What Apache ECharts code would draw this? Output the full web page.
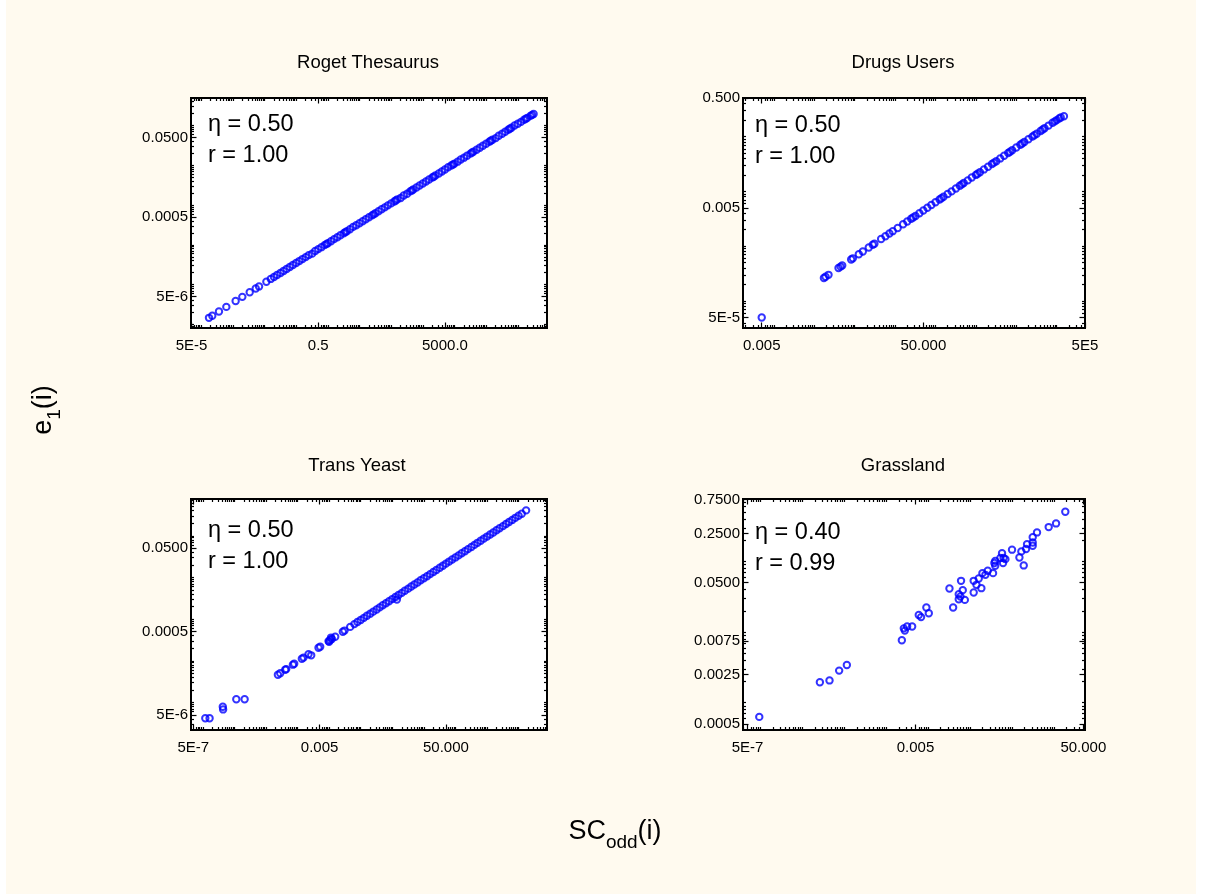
<!DOCTYPE html>
<html>
<head>
<meta charset="utf-8">
<script src="https://cdn.jsdelivr.net/npm/echarts@6.0.0/dist/echarts.min.js"></script>
<style>
html,body{margin:0;padding:0;background:#fff;}
#bg{position:absolute;left:6px;top:0;width:1190px;height:894px;background:#FFFAEF;}
#chart{position:absolute;left:0;top:0;width:1207px;height:894px;}
</style>
</head>
<body>
<div id="bg"></div>
<div id="chart"></div>
<script>
// ---------------- data ----------------
const rogetX = [1.77e-4, 2.25e-4, 3.66e-4, 6.25e-4, 1.23e-3, 2.0e-3, 3.42e-3, 5.3e-3, 6.75e-3, 1.15e-2,
  1.58e-2, 2.0e-2, 2.5e-2, 3.2e-2, 4.0e-2, 5.0e-2, 6.3e-2, 7.9e-2,
  0.1, 0.126, 0.158, 0.2, 0.25, 0.32, 0.4, 0.5, 0.63, 0.79,
  1, 1.26, 1.58, 2, 2.5, 3.2, 4, 5, 6.3, 7.9,
  10, 12.6, 15.8, 20, 25, 32, 40, 50, 63, 79,
  100, 126, 158, 200, 250, 320, 400, 500, 630, 790,
  1000, 1260, 1580, 2000, 2500, 3200, 4000, 5000, 6300, 7900,
  1e4, 1.26e4, 1.58e4, 2e4, 2.5e4, 3.2e4, 4e4, 5e4, 6.3e4, 7.9e4,
  1e5, 1.26e5, 1.58e5, 2e5, 2.5e5, 3.2e5, 4e5, 5e5, 6.3e5, 7.9e5,
  1e6, 1.26e6, 1.58e6, 2e6, 2.5e6, 3.15e6,
  0.9, 3.6, 28, 140, 450, 2200, 9000, 3.6e4, 1.4e5, 5.6e5, 1.8e6, 2.8e6];
const rogetY = [1.46e-6, 1.65e-6, 2.1e-6, 2.75e-6, 3.86e-6, 4.92e-6, 6.43e-6, 8.0e-6, 9.0e-6, 1.18e-5,
  1.39e-5, 1.55e-5, 1.74e-5, 1.96e-5, 2.2e-5, 2.46e-5, 2.76e-5, 3.1e-5,
  3.48e-5, 3.9e-5, 4.38e-5, 4.91e-5, 5.5e-5, 6.0e-5, 6.96e-5, 7.8e-5, 8.73e-5, 9.81e-5,
  1.1e-4, 1.23e-4, 1.39e-4, 1.55e-4, 1.74e-4, 1.96e-4, 2.2e-4, 2.46e-4, 2.82e-4, 3.1e-4,
  3.48e-4, 3.9e-4, 4.38e-4, 4.91e-4, 5.5e-4, 6.19e-4, 6.96e-4, 7.8e-4, 8.73e-4, 9.81e-4,
  1.1e-3, 1.23e-3, 1.39e-3, 1.5e-3, 1.74e-3, 1.92e-3, 2.2e-3, 2.46e-3, 2.76e-3, 3.1e-3,
  3.48e-3, 3.9e-3, 4.38e-3, 4.91e-3, 5.5e-3, 6.19e-3, 6.96e-3, 7.8e-3, 8.9e-3, 9.81e-3,
  1.1e-2, 1.23e-2, 1.39e-2, 1.55e-2, 1.74e-2, 1.96e-2, 2.2e-2, 2.46e-2, 2.76e-2, 3.1e-2,
  3.48e-2, 3.9e-2, 4.38e-2, 4.8e-2, 5.5e-2, 6.19e-2, 6.96e-2, 7.8e-2, 8.73e-2, 1.0e-1,
  0.11, 0.123, 0.139, 0.155, 0.174, 0.195,
  1.04e-4, 2.09e-4, 5.82e-4, 1.3e-3, 2.33e-3, 5.16e-3, 1.04e-2, 2.09e-2, 4.12e-2, 8.23e-2, 0.148, 0.184];

const drugsX = [0.005, 0.173, 0.19, 0.225, 0.398, 0.447, 0.491, 0.818, 0.9, 1.265, 1.59, 2.23, 2.8, 3.08,
  4.51, 5.77, 7.23, 8.75, 11.6,
  15.8, 20, 25, 32, 40, 50, 63, 79,
  100, 126, 158, 200, 250, 320, 400, 500, 630, 790,
  1000, 1260, 1580, 2000, 2500, 3200, 4000, 5000, 6300, 7900,
  1e4, 1.26e4, 1.58e4, 2e4, 2.5e4, 3.2e4, 4e4, 5e4, 6.3e4, 7.9e4,
  1e5, 1.26e5, 1.51e5,
  28, 140, 450, 1100, 2800, 7000, 1.4e4, 2.8e4, 4.5e4, 9e4, 1.15e5];
const drugsY = [5.0e-5, 2.63e-4, 2.76e-4, 3.0e-4, 4.0e-4, 4.23e-4, 4.43e-4, 5.72e-4, 6.0e-4, 7.13e-4, 7.99e-4, 9.47e-4, 1.06e-3, 1.11e-3,
  1.35e-3, 1.52e-3, 1.70e-3, 1.88e-3, 2.15e-3,
  2.52e-3, 2.82e-3, 3.16e-3, 3.56e-3, 4.0e-3, 4.48e-3, 5.02e-3, 5.64e-3,
  6.34e-3, 7.1e-3, 7.99e-3, 8.94e-3, 1.0e-2, 1.13e-2, 1.27e-2, 1.42e-2, 1.59e-2, 1.79e-2,
  2.0e-2, 2.24e-2, 2.52e-2, 2.82e-2, 3.16e-2, 3.56e-2, 4.0e-2, 4.48e-2, 5.02e-2, 5.64e-2,
  6.34e-2, 7.1e-2, 7.99e-2, 8.94e-2, 0.1, 0.113, 0.127, 0.142, 0.159, 0.179,
  0.2, 0.224, 0.236,
  3.35e-3, 7.5e-3, 1.345e-2, 2.1e-2, 3.35e-2, 5.3e-2, 7.5e-2, 0.106, 0.1345, 0.19, 0.215];

const yeastX = [1.2e-6, 1.64e-6, 4.3e-6, 4.4e-6, 1.15e-5, 2.11e-5,
  2.39e-4, 2.83e-4, 4.07e-4, 4.39e-4, 7.13e-4, 7.85e-4, 1.37e-3, 1.55e-3, 2.23e-3, 2.71e-3,
  4.62e-3, 5.22e-3, 9.6e-3, 1.0e-2, 1.08e-2, 1.15e-2, 1.22e-2, 1.56e-2, 2.72e-2, 3.08e-2, 4.65e-2,
  6.3e-2, 7.9e-2,
  0.1, 0.126, 0.158, 0.2, 0.25, 0.32, 0.4, 0.5, 0.63, 0.79,
  1, 1.26, 1.58, 2, 2.5, 3.2, 4, 5, 6.3, 7.9,
  10, 12.6, 15.8, 20, 25, 32, 40, 50, 63, 79,
  100, 126, 158, 200, 250, 320, 400, 500, 630, 790,
  1000, 1260, 1580, 2000, 2500, 3200, 4000, 5000, 6300, 7900,
  1e4, 1.26e4, 1.73e4, 1.4];
const yeastY = [4.16e-6, 4.16e-6, 7.9e-6, 6.8e-6, 1.19e-5, 1.19e-5,
  4.6e-5, 5.0e-5, 6.1e-5, 6.3e-5, 8.06e-5, 8.46e-5, 1.12e-4, 1.19e-4, 1.43e-4, 1.35e-4,
  2.05e-4, 2.18e-4, 2.96e-4, 2.85e-4, 3.14e-4, 3.6e-4, 3.34e-4, 3.77e-4, 4.98e-4, 5.3e-4, 6.5e-4,
  7.58e-4, 8.52e-4,
  9.55e-4, 1.07e-3, 1.2e-3, 1.35e-3, 1.51e-3, 1.7e-3, 1.91e-3, 2.14e-3, 2.4e-3, 2.69e-3,
  3.02e-3, 3.38e-3, 3.8e-3, 4.26e-3, 4.77e-3, 5.38e-3, 6.04e-3, 6.76e-3, 7.58e-3, 8.52e-3,
  9.55e-3, 1.07e-2, 1.2e-2, 1.35e-2, 1.51e-2, 1.7e-2, 1.91e-2, 2.14e-2, 2.4e-2, 2.69e-2,
  3.02e-2, 3.38e-2, 3.8e-2, 4.26e-2, 4.77e-2, 5.38e-2, 6.04e-2, 6.76e-2, 7.58e-2, 8.52e-2,
  9.55e-2, 0.107, 0.12, 0.135, 0.151, 0.17, 0.191, 0.214, 0.24, 0.269,
  0.302, 0.338, 0.406, 2.95e-3];

const grassX = [9.5e-7, 2.64e-5, 4.48e-5, 7.6e-5, 1.16e-4, 2.37e-3, 2.64e-3, 2.79e-3, 3.17e-3, 4.17e-3,
  6.0e-3, 6.8e-3, 9.1e-3, 1.04e-2, 3.23e-2, 3.95e-2, 5.38e-2, 5.38e-2, 5.9e-2, 6.1e-2,
  6.7e-2, 7.5e-2, 0.122, 0.122, 0.142, 0.161, 0.186, 0.197, 0.232, 0.264,
  0.353, 0.38, 0.398, 0.398, 0.528, 0.578, 0.611, 0.63, 0.695, 1.0,
  1.5, 1.67, 1.9, 2.16, 2.28, 3.11, 3.11, 3.11, 3.94, 7.48, 11.2, 18.6];
const grassY = [6.3e-4, 1.95e-3, 2.07e-3, 2.85e-3, 3.43e-3, 7.66e-3, 1.13e-2, 1.05e-2, 1.2e-2, 1.2e-2,
  1.75e-2, 1.63e-2, 2.23e-2, 1.85e-2, 4.14e-2, 2.23e-2, 3.44e-2, 2.92e-2, 3.19e-2, 5.32e-2,
  3.93e-2, 2.86e-2, 5.32e-2, 3.64e-2, 4.67e-2, 5.74e-2, 4.19e-2, 6.84e-2, 6.47e-2, 7.38e-2,
  6.84e-2, 9.5e-2, 0.102, 8.7e-2, 0.112, 0.131, 9.5e-2, 0.112, 0.108, 0.147,
  0.114, 0.139, 8.8e-2, 0.15, 0.176, 0.167, 0.186, 0.221, 0.258, 0.307, 0.346, 0.507];

// tick values and labels
const rogetXTicks = [5e-5, 0.5, 5000];
const rogetXLabels = ['5E-5', '0.5', '5000.0'];
const rogetYTicks = [5e-6, 5e-4, 0.05];
const rogetYLabels = ['5E-6', '0.0005', '0.0500'];
const drugsXTicks = [0.005, 50, 5e5];
const drugsXLabels = ['0.005', '50.000', '5E5'];
const drugsYTicks = [5e-5, 0.005, 0.5];
const drugsYLabels = ['5E-5', '0.005', '0.500'];
const yeastXTicks = [5e-7, 0.005, 50];
const yeastXLabels = ['5E-7', '0.005', '50.000'];
const yeastYTicks = [5e-6, 5e-4, 0.05];
const yeastYLabels = ['5E-6', '0.0005', '0.0500'];
const grassXTicks = [5e-7, 0.005, 50];
const grassXLabels = ['5E-7', '0.005', '50.000'];
const grassYTicks = [0.0005, 0.0025, 0.0075, 0.05, 0.25, 0.75];
const grassYLabels = ['0.0005', '0.0025', '0.0075', '0.0500', '0.2500', '0.7500'];

const titles = ['Roget Thesaurus', 'Drugs Users', 'Trans Yeast', 'Grassland'];
const etaTexts = ['\u03b7 = 0.50', '\u03b7 = 0.50', '\u03b7 = 0.50', '\u03b7 = 0.40'];
const rTexts = ['r = 1.00', 'r = 1.00', 'r = 1.00', 'r = 0.99'];

// ---------------- layout ----------------
const FONT = '"Liberation Sans", Arial, Helvetica, sans-serif';
const panels = [
  {xs: rogetX, ys: rogetY, xr: [4.79e-5, 8.34e6], yr: [8.11e-7, 0.49],
   xt: rogetXTicks, xl: rogetXLabels, yt: rogetYTicks, yl: rogetYLabels,
   grid: {left: 191, top: 98, width: 356, height: 230}, tx: 368, ty: 63, ax: 208, ay: 125},
  {xs: drugsX, ys: drugsY, xr: [1.72e-3, 5.02e5], yr: [3.21e-5, 0.507],
   xt: drugsXTicks, xl: drugsXLabels, yt: drugsYTicks, yl: drugsYLabels,
   grid: {left: 743, top: 98, width: 342, height: 230}, tx: 903, ty: 63, ax: 755, ay: 126},
  {xs: yeastX, ys: yeastY, xr: [4.23e-7, 7.94e4], yr: [2.18e-6, 0.762],
   xt: yeastXTicks, xl: yeastXLabels, yt: yeastYTicks, yl: yeastYLabels,
   grid: {left: 191, top: 499, width: 356, height: 231}, tx: 357, ty: 466, ax: 208, ay: 531},
  {xs: grassX, ys: grassY, xr: [3.89e-7, 54.8], yr: [4.11e-4, 0.767],
   xt: grassXTicks, xl: grassXLabels, yt: grassYTicks, yl: grassYLabels,
   grid: {left: 743, top: 499, width: 342, height: 231}, tx: 903, ty: 466, ax: 755, ay: 533}
];

function minorTicks(min, max, major) {
  const out = [];
  for (let n = Math.floor(Math.log10(min)) - 1; n <= Math.ceil(Math.log10(max)); n++) {
    for (let m = 1; m <= 9; m++) {
      const v = parseFloat((m * Math.pow(10, n)).toPrecision(6));
      if (v < min || v > max) continue;
      if (major.some(t => Math.abs(t - v) / t < 1e-6)) continue;
      out.push(v);
    }
  }
  return out;
}
function labelFor(v, ticks, labels) {
  let best = 0, bd = Infinity;
  ticks.forEach((t, i) => { const d = Math.abs(Math.log10(v) - Math.log10(t)); if (d < bd) { bd = d; best = i; } });
  return labels[best];
}
function mkAxis(gi, range, ticks, labels, pos, withLabels, minor, isY) {
  return {
    type: 'log', logBase: 10, gridIndex: gi, position: pos,
    min: range[0], max: range[1],
    axisLine: {show: false, onZero: false},
    splitLine: {show: false}, minorTick: {show: false}, minorSplitLine: {show: false},
    axisTick: {show: true, inside: true, length: minor ? 3 : 5.5,
      lineStyle: {color: '#000', width: 1.2},
      customValues: minor ? minorTicks(range[0], range[1], ticks) : ticks},
    axisLabel: withLabels ? {show: true, customValues: ticks,
      formatter: v => labelFor(v, ticks, labels),
      margin: isY ? 3 : 10, color: '#000', fontSize: 15, fontFamily: FONT} : {show: false},
    z: 10
  };
}

const grid = [], xAxis = [], yAxis = [], series = [], graphic = [];
panels.forEach((p, gi) => {
  grid.push(Object.assign({show: true, backgroundColor: '#ffffff', borderColor: '#000', borderWidth: 2}, p.grid));
  const xi = xAxis.length, yi = yAxis.length;
  xAxis.push(mkAxis(gi, p.xr, p.xt, p.xl, 'bottom', true, false, false));
  xAxis.push(mkAxis(gi, p.xr, p.xt, p.xl, 'bottom', false, true, false));
  xAxis.push(mkAxis(gi, p.xr, p.xt, p.xl, 'top', false, false, false));
  xAxis.push(mkAxis(gi, p.xr, p.xt, p.xl, 'top', false, true, false));
  yAxis.push(mkAxis(gi, p.yr, p.yt, p.yl, 'left', true, false, true));
  yAxis.push(mkAxis(gi, p.yr, p.yt, p.yl, 'left', false, true, true));
  yAxis.push(mkAxis(gi, p.yr, p.yt, p.yl, 'right', false, false, true));
  yAxis.push(mkAxis(gi, p.yr, p.yt, p.yl, 'right', false, true, true));
  series.push({
    type: 'scatter', xAxisIndex: xi, yAxisIndex: yi, silent: true,
    data: p.xs.map((x, i) => [x, p.ys[i]]),
    symbol: 'circle', symbolSize: 6.4,
    itemStyle: {color: 'rgba(0,0,0,0)', borderColor: '#0000ff', borderWidth: 2}
  });
  graphic.push({type: 'text', x: p.tx, y: p.ty, silent: true,
    style: {text: titles[gi], fontSize: 18.5, fontFamily: FONT, fill: '#000', align: 'center', verticalAlign: 'middle'}});
  graphic.push({type: 'text', x: p.ax, y: p.ay, silent: true, z: 100,
    style: {text: etaTexts[gi], fontSize: 23.5, fontFamily: FONT, fill: '#000', align: 'left', verticalAlign: 'middle'}});
  graphic.push({type: 'text', x: p.ax, y: p.ay + 31, silent: true, z: 100,
    style: {text: rTexts[gi], fontSize: 23.5, fontFamily: FONT, fill: '#000', align: 'left', verticalAlign: 'middle'}});
});

const richT = {
  n: {fontSize: 27, fontFamily: FONT, fill: '#000', lineHeight: 40, verticalAlign: 'middle'},
  s: {fontSize: 19, fontFamily: FONT, fill: '#000', lineHeight: 19, verticalAlign: 'bottom'}
};
graphic.push({type: 'text', x: 615, y: 832, silent: true,
  style: {text: '{n|SC}{s|odd}{n|(i)}', rich: richT, align: 'center', verticalAlign: 'middle'}});
graphic.push({type: 'text', x: 44, y: 410, rotation: Math.PI / 2, silent: true,
  style: {text: '{n|e}{s|1}{n|(i)}', rich: richT, align: 'center', verticalAlign: 'middle'}});

const chart = echarts.init(document.getElementById('chart'), null, {renderer: 'canvas'});
chart.setOption({
  animation: false,
  backgroundColor: 'transparent',
  grid, xAxis, yAxis, series, graphic
});
</script>
</body>
</html>
